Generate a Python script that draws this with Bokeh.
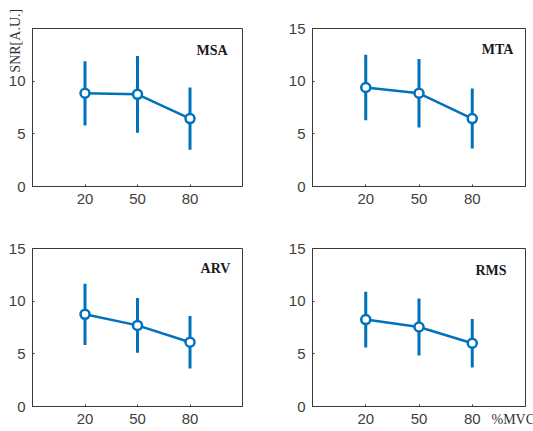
import math
from bokeh.plotting import figure
from bokeh.layouts import column, row
from bokeh.models import ColumnDataSource, FixedTicker, Label, Range1d
from bokeh.embed import file_html
from bokeh.resources import INLINE

# ---- data ----
mvc = [20, 50, 80]
y_ticks = [0, 5, 10, 15]

msa_mean = [8.85, 8.75, 6.45]
msa_std = [3.05, 3.65, 2.95]

mta_mean = [9.4, 8.85, 6.45]
mta_std = [3.1, 3.25, 2.85]

arv_mean = [8.75, 7.7, 6.1]
arv_std = [2.9, 2.6, 2.5]

rms_mean = [8.25, 7.55, 6.0]
rms_std = [2.65, 2.7, 2.3]

names = ["MSA", "MTA", "ARV", "RMS"]

BLUE = "#0072BD"
AX = "#3a3a3a"
TICKC = "#404040"
PAD = "\u00a0" * 7


def panel(name, mean, std, width, height, bl, br, bt, bb, hide15=False):
    p = figure(width=width, height=height, output_backend="svg",
               toolbar_location=None, x_range=Range1d(-10, 110),
               y_range=Range1d(0, 15), min_border_left=bl,
               min_border_right=br, min_border_top=bt, min_border_bottom=bb)
    p.xgrid.visible = False
    p.ygrid.visible = False
    p.outline_line_color = AX
    p.outline_line_width = 1
    p.outline_line_alpha = 1
    p.background_fill_color = "white"
    p.border_fill_color = "white"
    for ax in (p.xaxis[0], p.yaxis[0]):
        ax.axis_line_color = AX
        ax.axis_line_width = 1
        ax.major_tick_in = 2
        ax.major_tick_out = 0
        ax.major_tick_line_color = AX
        ax.minor_tick_line_color = None
        ax.major_label_text_font = "Liberation Sans"
        ax.major_label_text_font_size = "15px"
        ax.major_label_text_color = TICKC
        ax.major_label_standoff = 7
        ax.axis_label_text_font = "Liberation Serif"
        ax.axis_label_text_font_style = "normal"
        ax.axis_label_text_font_size = "14px"
        ax.axis_label_text_color = "#333333"
    p.xaxis[0].ticker = FixedTicker(ticks=mvc)
    p.yaxis[0].ticker = FixedTicker(ticks=y_ticks)
    if hide15:
        p.yaxis[0].major_label_overrides = {15: ""}

    lo = [m - s for m, s in zip(mean, std)]
    hi = [m + s for m, s in zip(mean, std)]
    src = ColumnDataSource(dict(x=mvc, y=mean, lo=lo, hi=hi))
    p.segment(x0="x", y0="lo", x1="x", y1="hi", source=src,
              line_color=BLUE, line_width=3)
    p.line("x", "y", source=src, line_color=BLUE, line_width=2.5)
    p.scatter("x", "y", source=src, size=9, marker="circle",
              line_color=BLUE, line_width=2.5, fill_color="white")
    return p


p1 = panel("MSA", msa_mean, msa_std, 263, 215, 32, 21, 28, 29, hide15=True)
p2 = panel("MTA", mta_mean, mta_std, 270, 215, 49, 8, 28, 29)
p3 = panel("ARV", arv_mean, arv_std, 263, 216, 32, 21, 33, 25)
p4 = panel("RMS", rms_mean, rms_std, 270, 216, 49, 8, 33, 25)

title_pos = [(101.5, 12.9), (103.2, 13.0), (103.1, 13.1), (99.3, 12.9)]
for p, nm, (tx, ty) in zip([p1, p2, p3, p4], names, title_pos):
    p.add_layout(Label(x=tx, y=ty, text=nm, text_align="right",
                       text_baseline="middle", text_font="Liberation Serif",
                       text_font_style="bold", text_font_size="14px",
                       text_color="#1a1a1a"))

# y-axis label of the top-left panel, moved to the top of the axis
p1.yaxis[0].axis_label = "SNR[A.U.]" + PAD
p1.yaxis[0].axis_label_align = "end"
p1.yaxis[0].axis_label_standoff = -17

# x-axis label of the bottom-right panel, beside the last tick label
p4.xaxis[0].axis_label = "%MVC" + PAD
p4.xaxis[0].axis_label_align = "end"
p4.xaxis[0].axis_label_standoff = -15

layout = column(row(p1, p2), row(p3, p4))
open("out.html", "w").write(file_html(layout, INLINE))
